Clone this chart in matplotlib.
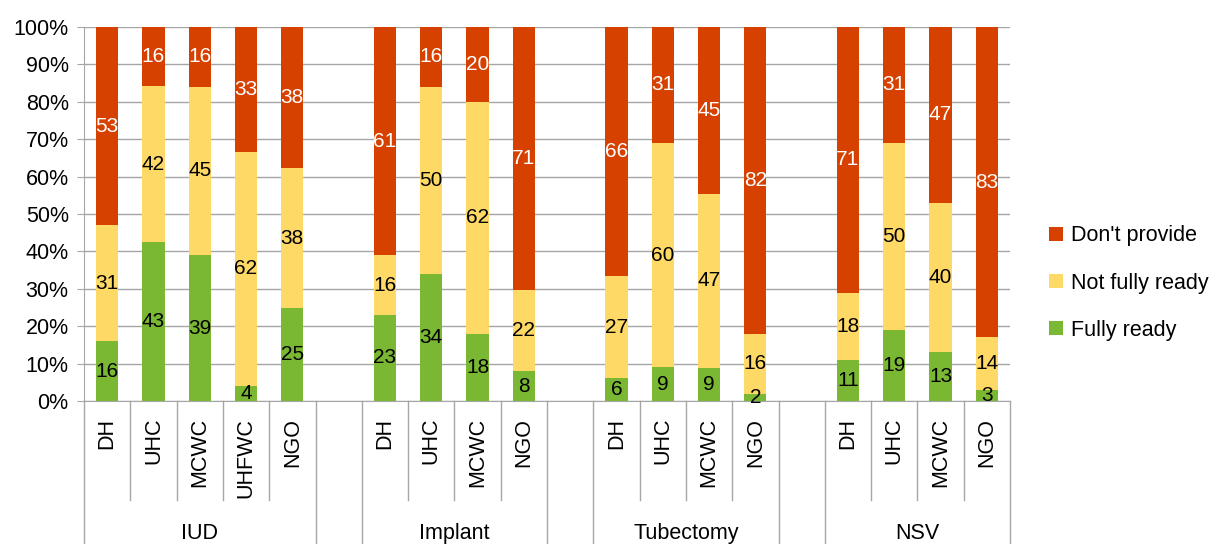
import numpy as np
import matplotlib
matplotlib.use("Agg")
import matplotlib.pyplot as plt
import matplotlib.transforms as mtransforms

plt.rcParams['font.family'] = ['Liberation Sans', 'DejaVu Sans']

# === data ===
groups = ["IUD", "Implant", "Tubectomy", "NSV"]
facilities = [
    ["DH", "UHC", "MCWC", "UHFWC", "NGO"],
    ["DH", "UHC", "MCWC", "NGO"],
    ["DH", "UHC", "MCWC", "NGO"],
    ["DH", "UHC", "MCWC", "NGO"],
]
fully_ready = [16, 43, 39, 4, 25,  23, 34, 18, 8,  6, 9, 9, 2,  11, 19, 13, 3]
not_fully = [31, 42, 45, 62, 38,  16, 50, 62, 22,  27, 60, 47, 16,  18, 50, 40, 14]
dont_provide = [53, 16, 16, 33, 38,  61, 16, 20, 71,  66, 31, 45, 82,  71, 31, 47, 83]

c_green = "#7AB733"
c_yellow = "#FFD966"
c_red = "#D64100"
grid_c = "#A6A6A6"

# positions: one empty slot between groups
pos = []
labels = []
group_centers = []
slot = 0
bounds_long = [-0.5]
for gi, fac in enumerate(facilities):
    start = slot
    for f in fac:
        pos.append(slot)
        labels.append(f)
        slot += 1
    group_centers.append((start + slot - 1) / 2)
    bounds_long.append(slot - 0.5)
    if gi < len(facilities) - 1:
        bounds_long.append(slot + 0.5)
        slot += 1
pos = np.array(pos, dtype=float)

fr = np.array(fully_ready, float)
nf = np.array(not_fully, float)
dp = np.array(dont_provide, float)
tot = fr + nf + dp
fr_p = fr / tot * 100
nf_p = nf / tot * 100
dp_p = dp / tot * 100

fig = plt.figure(figsize=(12.11, 5.44), dpi=100)
ax = fig.add_axes([84 / 1211, 143 / 544, 926 / 1211, 374 / 544])

w = 0.48
b1 = ax.bar(pos, fr_p, w, color=c_green, label="Fully ready", zorder=3)
b2 = ax.bar(pos, nf_p, w, bottom=fr_p, color=c_yellow, label="Not fully ready", zorder=3)
b3 = ax.bar(pos, dp_p, w, bottom=fr_p + nf_p, color=c_red, label="Don't provide", zorder=3)

fs = 15
for i in range(len(pos)):
    ax.text(pos[i], fr_p[i] / 2, f"{fully_ready[i]}", ha="center", va="center",
            fontsize=fs, color="black", zorder=4)
    ax.text(pos[i], fr_p[i] + nf_p[i] / 2, f"{not_fully[i]}", ha="center", va="center",
            fontsize=fs, color="black", zorder=4)
    ax.text(pos[i], fr_p[i] + nf_p[i] + dp_p[i] / 2, f"{dont_provide[i]}", ha="center",
            va="center", fontsize=fs, color="white", zorder=4)

ax.set_xlim(-0.5, slot - 0.5)
ax.set_ylim(0, 100)
ax.set_yticks(np.arange(0, 101, 10))
ax.set_yticklabels([f"{v}%" for v in range(0, 101, 10)], fontsize=15.5)
ax.yaxis.grid(True, color=grid_c, linewidth=1, zorder=0)
ax.tick_params(axis="y", length=5, color=grid_c, pad=6)

ax.set_xticks(pos)
ax.set_xticklabels(labels, rotation=90, fontsize=15.5, va="top")
ax.tick_params(axis="x", length=0, pad=12)

for s in ["top", "right"]:
    ax.spines[s].set_visible(False)
for s in ["left", "bottom"]:
    ax.spines[s].set_color(grid_c)

# separators under the axis
trans = mtransforms.blended_transform_factory(ax.transData, ax.transAxes)
all_bounds = np.arange(-0.5, slot, 1.0)
for bx in all_bounds:
    is_long = any(abs(bx - b) < 1e-6 for b in bounds_long)
    y_end = -0.385 if is_long else -0.265
    ax.plot([bx, bx], [0, y_end], color=grid_c, lw=1, transform=trans, clip_on=False)

for gc, g in zip(group_centers, groups):
    ax.text(gc, -0.355, g, transform=trans, ha="center", va="center", fontsize=15.5)

handles = [b3, b2, b1]
fig.legend(handles, [h.get_label() for h in handles], loc="center left",
           bbox_to_anchor=(1030 / 1211, 1 - 283 / 544), frameon=False, fontsize=15.5,
           handlelength=0.62, handleheight=0.62, handletextpad=0.4, labelspacing=1.22)

fig.savefig("out.png", dpi=100)
